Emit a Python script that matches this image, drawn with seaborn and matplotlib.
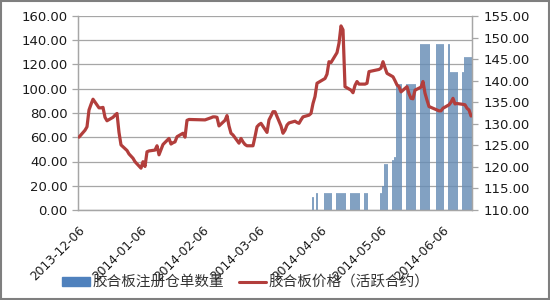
import numpy as np
import pandas as pd
import matplotlib
matplotlib.use("Agg")
import matplotlib.pyplot as plt
from matplotlib.patches import Patch, Rectangle
from matplotlib.lines import Line2D
import seaborn as sns

# ---------------- data ----------------
price_dates = [
    "2013-12-06", "2013-12-09", "2013-12-10", "2013-12-11", "2013-12-12", "2013-12-13",
    "2013-12-16", "2013-12-17", "2013-12-18", "2013-12-19", "2013-12-20", "2013-12-23",
    "2013-12-24", "2013-12-25", "2013-12-26", "2013-12-27", "2013-12-30", "2013-12-31",
    "2014-01-02", "2014-01-03", "2014-01-06", "2014-01-07", "2014-01-08", "2014-01-09",
    "2014-01-10", "2014-01-13", "2014-01-14", "2014-01-15", "2014-01-16", "2014-01-17",
    "2014-01-20", "2014-01-21", "2014-01-22", "2014-01-23", "2014-01-24", "2014-01-27",
    "2014-01-28", "2014-01-29", "2014-01-30", "2014-02-07", "2014-02-10", "2014-02-11",
    "2014-02-12", "2014-02-13", "2014-02-14", "2014-02-17", "2014-02-18", "2014-02-19",
    "2014-02-20", "2014-02-21", "2014-02-24", "2014-02-25", "2014-02-26", "2014-02-27",
    "2014-02-28", "2014-03-03", "2014-03-04", "2014-03-05", "2014-03-06", "2014-03-07",
    "2014-03-10", "2014-03-11", "2014-03-12", "2014-03-13", "2014-03-14", "2014-03-17",
    "2014-03-18", "2014-03-19", "2014-03-20", "2014-03-21", "2014-03-24", "2014-03-25",
    "2014-03-26", "2014-03-27", "2014-03-28", "2014-03-31", "2014-04-01", "2014-04-02",
    "2014-04-03", "2014-04-04", "2014-04-08", "2014-04-09", "2014-04-10", "2014-04-11",
    "2014-04-14", "2014-04-15", "2014-04-16", "2014-04-17", "2014-04-18", "2014-04-21",
    "2014-04-22", "2014-04-23", "2014-04-24", "2014-04-25", "2014-04-28", "2014-04-29",
    "2014-04-30", "2014-05-05", "2014-05-06", "2014-05-07", "2014-05-08", "2014-05-09",
    "2014-05-12", "2014-05-13", "2014-05-14", "2014-05-15", "2014-05-16", "2014-05-19",
    "2014-05-20", "2014-05-21", "2014-05-22", "2014-05-23", "2014-05-26", "2014-05-27",
    "2014-05-28", "2014-05-29", "2014-05-30", "2014-06-03", "2014-06-04", "2014-06-05",
    "2014-06-06", "2014-06-09", "2014-06-10", "2014-06-11", "2014-06-12", "2014-06-13",
    "2014-06-16", "2014-06-17", "2014-06-18", "2014-06-19", "2014-06-20",
]
price_values = [
    126.9, 128.5, 129.3, 133.2, 134.5, 135.7,
    133.7, 133.7, 133.8, 131.5, 130.7, 131.5,
    132.0, 132.4, 128.0, 125.1, 123.8, 123.0,
    122.0, 121.2, 119.7, 121.2, 120.1, 123.5,
    123.7, 123.9, 124.9, 122.8, 124.0, 125.2,
    126.6, 125.3, 125.6, 125.8, 127.0, 127.8,
    126.9, 130.8, 131.0, 130.9, 131.4, 131.6,
    131.6, 131.5, 129.5, 130.8, 131.9, 129.5,
    127.8, 127.4, 125.5, 126.6, 125.8, 125.2,
    124.9, 124.9, 127.0, 129.3, 129.8, 130.1,
    128.0, 130.9, 131.8, 132.8, 132.8, 129.5,
    127.8, 128.5, 129.7, 130.2, 130.6, 130.3,
    130.1, 130.9, 131.6, 132.0, 132.4, 134.7,
    136.3, 139.4, 140.5, 141.5, 144.4, 144.2,
    146.5, 148.7, 152.7, 151.8, 138.6, 137.8,
    137.2, 138.9, 139.8, 139.2, 139.2, 139.4,
    142.1, 142.6, 142.9, 144.4, 143.0, 141.7,
    140.9, 140.0, 139.0, 138.6, 137.4, 138.6,
    137.0, 135.9, 135.8, 137.8, 138.5, 139.8,
    137.1, 135.5, 134.0, 133.2, 133.0, 133.0,
    133.6, 134.4, 135.0, 135.9, 134.6, 134.7,
    134.5, 134.4, 133.6, 133.2, 131.8,
]

bar_dates = [
    "2014-04-02", "2014-04-04", "2014-04-08", "2014-04-09", "2014-04-10", "2014-04-11",
    "2014-04-14", "2014-04-15", "2014-04-16", "2014-04-17", "2014-04-18",
    "2014-04-21", "2014-04-22", "2014-04-23", "2014-04-24", "2014-04-25",
    "2014-04-28", "2014-04-29", "2014-05-06", "2014-05-07", "2014-05-08", "2014-05-09",
    "2014-05-12", "2014-05-13", "2014-05-14", "2014-05-15", "2014-05-16",
    "2014-05-19", "2014-05-20", "2014-05-21", "2014-05-22", "2014-05-23",
    "2014-05-26", "2014-05-27", "2014-05-28", "2014-05-29", "2014-05-30",
    "2014-06-03", "2014-06-04", "2014-06-05", "2014-06-06", "2014-06-09",
    "2014-06-10", "2014-06-11", "2014-06-12", "2014-06-13", "2014-06-16",
    "2014-06-17", "2014-06-18", "2014-06-19", "2014-06-20",
]
bar_values = [
    11, 14, 14, 14, 14, 14,
    14, 14, 14, 14, 14,
    14, 14, 14, 14, 14,
    14, 14, 14, 20, 38, 38,
    41, 44, 104, 104, 104,
    104, 104, 104, 104, 104,
    137, 137, 137, 137, 137,
    137, 137, 137, 137, 137,
    114, 114, 114, 114, 114,
    126, 126, 126, 126,
]

tick_labels = ["2013-12-06", "2014-01-06", "2014-02-06", "2014-03-06",
               "2014-04-06", "2014-05-06", "2014-06-06"]
left_ticks = [0, 20, 40, 60, 80, 100, 120, 140, 160]
right_ticks = [110, 115, 120, 125, 130, 135, 140, 145, 150, 155]

bar_name = "胶合板注册仓单数量"
line_name = "胶合板价格（活跃合约）"

# ---------------- figure ----------------
sns.set_style("white")
plt.rcParams["font.family"] = ["DejaVu Sans"]

fig = plt.figure(figsize=(5.5, 3.0), dpi=100)
ax = fig.add_axes([78/550, 1-210/300, (472-78)/550, (210-16)/300])
ax2 = ax.twinx()

half = pd.Timedelta(hours=12)
bdf = pd.DataFrame({"date": pd.to_datetime(bar_dates) + half, "qty": bar_values})
pdf = pd.DataFrame({"date": pd.to_datetime(price_dates) + half, "price": price_values})

ax.bar(bdf["date"], bdf["qty"], width=0.5, color="#B7C9DB",
       edgecolor="#4F7BAA", linewidth=0.45, zorder=2)

sns.lineplot(data=pdf, x="date", y="price", ax=ax2, color="#B23E3C",
             linewidth=2.3, legend=False, zorder=3)

grid_c = "#A6A6A6"
ax.set_ylim(0, 160)
ax.set_yticks(left_ticks)
ax.set_yticklabels([f"{v:.2f}" for v in left_ticks])
ax.yaxis.grid(True, color=grid_c, linewidth=0.9, zorder=0)
ax.set_axisbelow(True)

ax2.set_ylim(110, 155)
ax2.set_yticks(right_ticks)
ax2.set_yticklabels([f"{v:.2f}" for v in right_ticks])
ax2.grid(False)

xmin = pd.Timestamp("2013-12-06")
xmax = pd.Timestamp("2014-06-21")
ax.set_xlim(xmin, xmax)
ax.set_xticks(pd.to_datetime(tick_labels))
ax.set_xticklabels(tick_labels, rotation=45, ha="right", rotation_mode="anchor")
for a in (ax, ax2):
    a.set_xlabel("")
    a.set_ylabel("")

for a in (ax, ax2):
    for s in a.spines.values():
        s.set_color(grid_c)
        s.set_linewidth(0.9)
    a.spines["top"].set_visible(False)
    a.tick_params(colors="#1a1a1a", labelsize=9.5, length=4, width=0.9, color=grid_c)
ax.tick_params(axis="x", labelsize=8.8, pad=6)
ax2.tick_params(axis="y", pad=4)

# legend
handles = [Patch(facecolor="#4F81BD", edgecolor="#4F81BD"),
           Line2D([0], [0], color="#B23E3C", linewidth=2.2)]
fig.legend(handles, [bar_name, line_name], loc="center", ncol=2,
           bbox_to_anchor=(0.447, 0.058), frameon=False,
           prop={"family": ["Noto Sans CJK SC", "DejaVu Sans"], "size": 10.5},
           handlelength=1.9, handleheight=0.55, handletextpad=0.15, columnspacing=1.0,
           labelcolor="#333333")

fig.patches.append(Rectangle((0.002, 0.003), 0.996, 0.994, transform=fig.transFigure,
                             fill=False, edgecolor="#7F7F7F", linewidth=1.5))

fig.savefig("out.png", dpi=100)
